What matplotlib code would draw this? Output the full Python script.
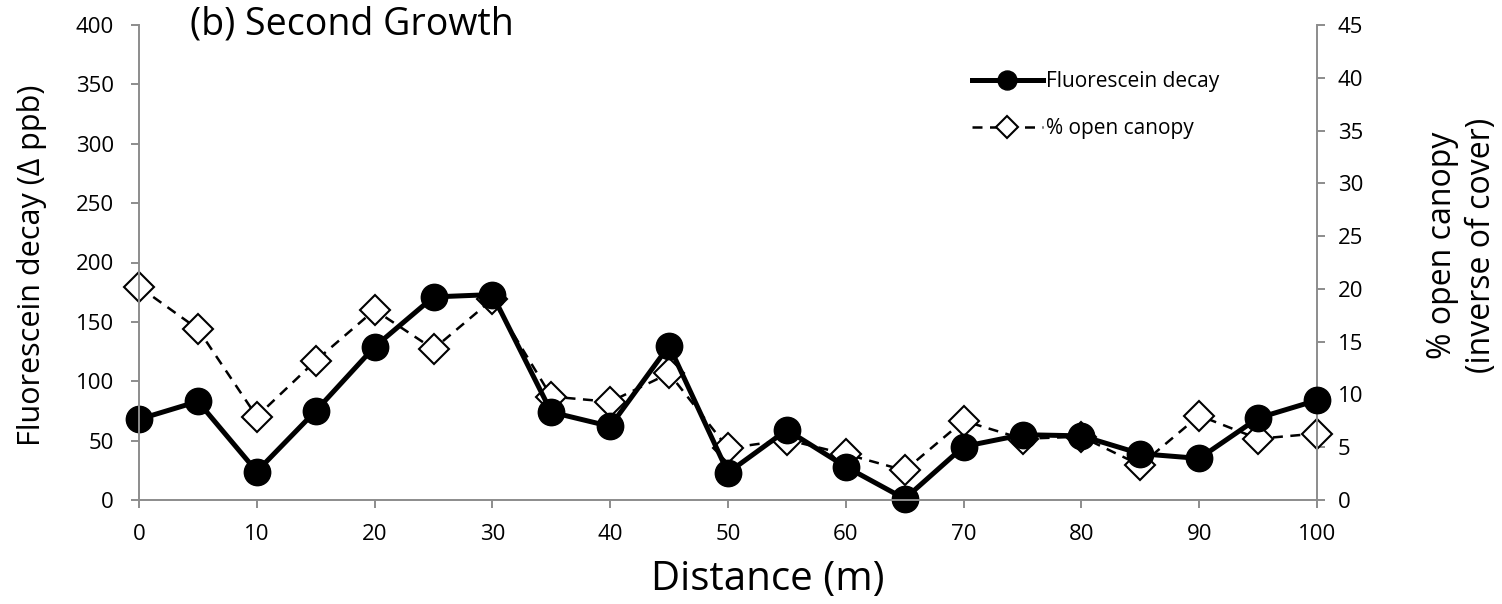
import matplotlib
matplotlib.use("Agg")
import matplotlib.pyplot as plt

plt.rcParams['font.family'] = ['Open Sans', 'DejaVu Sans']

distance = [0, 5, 10, 15, 20, 25, 30, 35, 40, 45, 50, 55, 60, 65, 70, 75, 80, 85, 90, 95, 100]
fluorescein = [68, 83, 24, 75, 129, 171, 173, 74, 62, 130, 23, 59, 28, 1, 45, 55, 54, 39, 35, 69, 84]
open_canopy = [20.2, 16.2, 7.9, 13.2, 18.0, 14.3, 19.0, 9.8, 9.3, 12.0, 4.9, 5.7, 4.35, 2.8, 7.5, 5.8, 6.0, 3.3, 8.0, 5.8, 6.3]

left_ticks = [0, 50, 100, 150, 200, 250, 300, 350, 400]
right_ticks = [0, 5, 10, 15, 20, 25, 30, 35, 40, 45]
x_ticks = [0, 10, 20, 30, 40, 50, 60, 70, 80, 90, 100]

W, H = 1502, 604
fig = plt.figure(figsize=(W / 100, H / 100), dpi=100)
ax1 = fig.add_axes([139 / W, 1 - 500 / H, (1317 - 139) / W, (500 - 25) / H])
ax2 = ax1.twinx()
ax1.set_zorder(ax2.get_zorder() + 1)
ax1.patch.set_visible(False)

l2, = ax2.plot(distance, open_canopy, color='black', linestyle=(0, (4, 3)), linewidth=1.8,
               marker='D', markersize=15, markerfacecolor='white', markeredgecolor='black',
               markeredgewidth=1.5, label='% open canopy', clip_on=False)
l1, = ax1.plot(distance, fluorescein, color='black', linewidth=3.6,
               marker='o', markersize=19, markerfacecolor='black', markeredgecolor='black',
               label='Fluorescein decay', clip_on=False)

ax1.set_xlim(0, 100)
ax1.set_ylim(0, 400)
ax2.set_ylim(0, 45)
ax1.set_xticks(x_ticks)
ax1.set_yticks(left_ticks)
ax2.set_yticks(right_ticks)

gray = '#8c8c8c'
for ax in (ax1, ax2):
    for s in ax.spines.values():
        s.set_color(gray)
        s.set_linewidth(1.4)
    ax.spines['top'].set_visible(False)
    ax.tick_params(colors=gray, labelcolor='black', labelsize=16, length=6, width=1.4)
ax1.spines['right'].set_visible(False)
ax2.spines['left'].set_visible(False)
ax2.spines['bottom'].set_visible(False)
ax1.tick_params(axis='x', pad=11)
ax1.tick_params(axis='y', pad=12)
ax2.tick_params(axis='y', pad=9)

fig.text(768 / W, 1 - 580 / H, 'Distance (m)', fontsize=29, ha='center', va='center')
fig.text(32 / W, 1 - 265 / H, 'Fluorescein decay (\u0394 ppb)', fontsize=22,
         rotation=90, ha='center', va='center')
fig.text(1462 / W, 1 - 245 / H, '% open canopy\n(inverse of cover)', fontsize=23,
         rotation=90, ha='center', va='center', linespacing=1.25)
fig.text(190 / W, 1 - 24 / H, '(b) Second Growth', fontsize=27, ha='left', va='center')

leg = ax1.legend(handles=[l1, l2], loc='upper left',
                 bbox_to_anchor=((972 - 139) / 1178, (500 - 71) / 475),
                 frameon=False, fontsize=15, handlelength=3.4, handletextpad=0.15,
                 labelspacing=1.25, markerscale=0.72, borderpad=0, borderaxespad=0)

fig.savefig('out.png', dpi=100)
